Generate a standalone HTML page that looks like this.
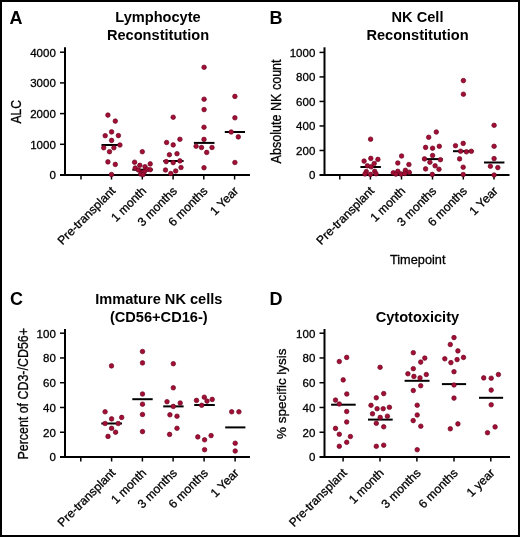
<!DOCTYPE html>
<html><head><meta charset="utf-8"><style>
html,body{margin:0;padding:0;background:#fff;}
svg{display:block;will-change:transform;}
text{font-family:"Liberation Sans",sans-serif;fill:#000;}
.let{font-size:18px;font-weight:bold;}
.ttl{font-size:14.6px;font-weight:bold;text-anchor:middle;}
.tl{font-size:11.5px;text-anchor:end;}
.tl,.xl,.yl,.xt{stroke:#000;stroke-width:0.3px;}
.xl{font-size:12.1px;text-anchor:end;}
.yl{font-size:12.5px;text-anchor:middle;}
.xt{font-size:13.6px;text-anchor:middle;}
.ax{stroke:#000;stroke-width:2;fill:none;}
.tk{stroke:#000;stroke-width:1.5;fill:none;}
.md{stroke:#000;stroke-width:2;fill:none;}
circle{fill:#a20e34;stroke:#6e0724;stroke-width:0.7;}
</style></head><body>
<svg width="520" height="537" viewBox="0 0 520 537">
<rect x="0" y="0" width="520" height="537" fill="#fff"/>
<rect x="1" y="1" width="518" height="535" fill="none" stroke="#000" stroke-width="2"/>
<text x="9.5" y="23.8" class="let">A</text>
<text x="158" y="22.3" class="ttl">Lymphocyte</text>
<text x="158" y="39.5" class="ttl">Reconstitution</text>
<path d="M65 47.3V176" class="ax"/>
<path d="M60 175H250" class="ax"/>
<text x="55.8" y="179.3" class="tl">0</text>
<path d="M60 144.3H65" class="tk"/>
<text x="55.8" y="148.6" class="tl">1000</text>
<path d="M60 113.6H65" class="tk"/>
<text x="55.8" y="117.9" class="tl">2000</text>
<path d="M60 82.9H65" class="tk"/>
<text x="55.8" y="87.2" class="tl">3000</text>
<path d="M60 52.2H65" class="tk"/>
<text x="55.8" y="56.5" class="tl">4000</text>
<path d="M81 176V179.5" class="tk"/>
<path d="M111.5 176V179.5" class="tk"/>
<path d="M142.3 176V179.5" class="tk"/>
<path d="M173.1 176V179.5" class="tk"/>
<path d="M203.8 176V179.5" class="tk"/>
<path d="M234.6 176V179.5" class="tk"/>
<text transform="translate(116.1 191.7) rotate(-45)" class="xl">Pre-transplant</text>
<text transform="translate(146.9 191.7) rotate(-45)" class="xl">1 month</text>
<text transform="translate(177.7 191.7) rotate(-45)" class="xl">3 months</text>
<text transform="translate(208.4 191.7) rotate(-45)" class="xl">6 months</text>
<text transform="translate(239.2 191.7) rotate(-45)" class="xl">1 Year</text>
<text transform="translate(21 111.7) rotate(-90)" class="yl" style="font-size:14.6px" textLength="23.5" lengthAdjust="spacingAndGlyphs">ALC</text>
<path d="M101.5 145H121.5" class="md"/>
<path d="M132.3 169.7H152.7" class="md"/>
<path d="M163.3 161H183.6" class="md"/>
<path d="M193.9 142.9H214.5" class="md"/>
<path d="M224.8 132H245" class="md"/>
<circle cx="107.9" cy="115.1" r="2.28"/>
<circle cx="115.3" cy="121.1" r="2.28"/>
<circle cx="111.6" cy="131.9" r="2.28"/>
<circle cx="105.2" cy="135.7" r="2.28"/>
<circle cx="118.4" cy="135.6" r="2.28"/>
<circle cx="111.6" cy="140.4" r="2.28"/>
<circle cx="119.9" cy="145" r="2.28"/>
<circle cx="103.7" cy="147.8" r="2.28"/>
<circle cx="113.9" cy="147.8" r="2.28"/>
<circle cx="109.5" cy="151.7" r="2.28"/>
<circle cx="107.9" cy="161.9" r="2.28"/>
<circle cx="115.3" cy="164.4" r="2.28"/>
<circle cx="111.5" cy="174.5" r="2.28"/>
<circle cx="142.3" cy="151.7" r="2.28"/>
<circle cx="134.6" cy="162.2" r="2.28"/>
<circle cx="150.2" cy="163.9" r="2.28"/>
<circle cx="139.8" cy="165.3" r="2.28"/>
<circle cx="145" cy="166.7" r="2.28"/>
<circle cx="135.2" cy="168" r="2.28"/>
<circle cx="138.4" cy="170" r="2.28"/>
<circle cx="147" cy="169.4" r="2.28"/>
<circle cx="150.2" cy="169.7" r="2.28"/>
<circle cx="141.8" cy="172.3" r="2.28"/>
<circle cx="144.4" cy="171.7" r="2.28"/>
<circle cx="140.7" cy="174" r="2.28"/>
<circle cx="143" cy="174.6" r="2.28"/>
<circle cx="173.2" cy="117.2" r="2.28"/>
<circle cx="179.9" cy="139.3" r="2.28"/>
<circle cx="166.6" cy="142.5" r="2.28"/>
<circle cx="173.2" cy="144.9" r="2.28"/>
<circle cx="169.4" cy="154.7" r="2.28"/>
<circle cx="177" cy="153.7" r="2.28"/>
<circle cx="166.2" cy="161.6" r="2.28"/>
<circle cx="173.2" cy="162.6" r="2.28"/>
<circle cx="179.9" cy="160.9" r="2.28"/>
<circle cx="181" cy="167.5" r="2.28"/>
<circle cx="165.5" cy="170" r="2.28"/>
<circle cx="175.7" cy="171" r="2.28"/>
<circle cx="170.8" cy="173.5" r="2.28"/>
<circle cx="204.1" cy="67.3" r="2.28"/>
<circle cx="204.1" cy="99.2" r="2.28"/>
<circle cx="204.1" cy="109.6" r="2.28"/>
<circle cx="204" cy="127.2" r="2.28"/>
<circle cx="204" cy="139.4" r="2.28"/>
<circle cx="196.1" cy="146.2" r="2.28"/>
<circle cx="201.5" cy="147.5" r="2.28"/>
<circle cx="212" cy="147.5" r="2.28"/>
<circle cx="206.7" cy="152.4" r="2.28"/>
<circle cx="204" cy="167.7" r="2.28"/>
<circle cx="234.9" cy="96.4" r="2.28"/>
<circle cx="234.9" cy="117.8" r="2.28"/>
<circle cx="231.2" cy="132" r="2.28"/>
<circle cx="238.3" cy="136.9" r="2.28"/>
<circle cx="234.9" cy="162.5" r="2.28"/>
<text x="269.6" y="23.8" class="let">B</text>
<text x="417.5" y="22.3" class="ttl">NK Cell</text>
<text x="417.5" y="39.5" class="ttl">Reconstitution</text>
<path d="M324.5 47.3V176" class="ax"/>
<path d="M319.5 175H509.5" class="ax"/>
<text x="315.3" y="179.3" class="tl">0</text>
<path d="M319.5 150.48H324.5" class="tk"/>
<text x="315.3" y="154.78" class="tl">200</text>
<path d="M319.5 125.96H324.5" class="tk"/>
<text x="315.3" y="130.26" class="tl">400</text>
<path d="M319.5 101.44H324.5" class="tk"/>
<text x="315.3" y="105.74" class="tl">600</text>
<path d="M319.5 76.92H324.5" class="tk"/>
<text x="315.3" y="81.22" class="tl">800</text>
<path d="M319.5 52.4H324.5" class="tk"/>
<text x="315.3" y="56.7" class="tl">1000</text>
<path d="M339.8 176V179.5" class="tk"/>
<path d="M370.4 176V179.5" class="tk"/>
<path d="M401.5 176V179.5" class="tk"/>
<path d="M432.5 176V179.5" class="tk"/>
<path d="M463.3 176V179.5" class="tk"/>
<path d="M494 176V179.5" class="tk"/>
<text transform="translate(375 191.7) rotate(-45)" class="xl">Pre-transplant</text>
<text transform="translate(406.1 191.7) rotate(-45)" class="xl">1 month</text>
<text transform="translate(437.1 191.7) rotate(-45)" class="xl">3 months</text>
<text transform="translate(467.9 191.7) rotate(-45)" class="xl">6 months</text>
<text transform="translate(498.6 191.7) rotate(-45)" class="xl">1 Year</text>
<text transform="translate(281 111.4) rotate(-90)" class="yl" style="font-size:13.8px" textLength="104" lengthAdjust="spacingAndGlyphs">Absolute NK count</text>
<text x="417.7" y="263.9" class="xt" textLength="55.5" lengthAdjust="spacingAndGlyphs">Timepoint</text>
<path d="M360.4 167H380.9" class="md"/>
<path d="M391.5 172.8H411.5" class="md"/>
<path d="M422.5 159.1H442.5" class="md"/>
<path d="M453 151.2H473.5" class="md"/>
<path d="M484 162.5H504.4" class="md"/>
<circle cx="370.6" cy="139.2" r="2.28"/>
<circle cx="364.1" cy="161.1" r="2.28"/>
<circle cx="370.8" cy="158.4" r="2.28"/>
<circle cx="377.9" cy="159.4" r="2.28"/>
<circle cx="374.2" cy="163.5" r="2.28"/>
<circle cx="367.4" cy="165.8" r="2.28"/>
<circle cx="371.2" cy="166.8" r="2.28"/>
<circle cx="366.3" cy="171.6" r="2.28"/>
<circle cx="374.7" cy="171.3" r="2.28"/>
<circle cx="370.4" cy="174.4" r="2.28"/>
<circle cx="365" cy="174" r="2.28"/>
<circle cx="376" cy="173.8" r="2.28"/>
<circle cx="401.6" cy="156" r="2.28"/>
<circle cx="397.8" cy="163" r="2.28"/>
<circle cx="408.9" cy="164.5" r="2.28"/>
<circle cx="393.3" cy="172.8" r="2.28"/>
<circle cx="397.8" cy="171.3" r="2.28"/>
<circle cx="405.4" cy="170.3" r="2.28"/>
<circle cx="409.2" cy="172.2" r="2.28"/>
<circle cx="401" cy="174.1" r="2.28"/>
<circle cx="395.9" cy="174.1" r="2.28"/>
<circle cx="404.8" cy="173.5" r="2.28"/>
<circle cx="436.3" cy="132" r="2.28"/>
<circle cx="428.7" cy="137.3" r="2.28"/>
<circle cx="425.6" cy="147.4" r="2.28"/>
<circle cx="432.6" cy="148.2" r="2.28"/>
<circle cx="439.3" cy="146.3" r="2.28"/>
<circle cx="432.6" cy="155.5" r="2.28"/>
<circle cx="424.5" cy="158.9" r="2.28"/>
<circle cx="440.4" cy="159.7" r="2.28"/>
<circle cx="429.9" cy="162.2" r="2.28"/>
<circle cx="435.1" cy="165.8" r="2.28"/>
<circle cx="425.6" cy="168.9" r="2.28"/>
<circle cx="439" cy="169.2" r="2.28"/>
<circle cx="432.3" cy="174.4" r="2.28"/>
<circle cx="463.4" cy="80.6" r="2.28"/>
<circle cx="463.4" cy="94.2" r="2.28"/>
<circle cx="455.5" cy="145.7" r="2.28"/>
<circle cx="463.2" cy="143.4" r="2.28"/>
<circle cx="460.6" cy="151.2" r="2.28"/>
<circle cx="466.4" cy="151.8" r="2.28"/>
<circle cx="471.3" cy="151.3" r="2.28"/>
<circle cx="459.6" cy="158.9" r="2.28"/>
<circle cx="463.2" cy="167.2" r="2.28"/>
<circle cx="463.2" cy="174.5" r="2.28"/>
<circle cx="494.1" cy="125.3" r="2.28"/>
<circle cx="494.1" cy="146.3" r="2.28"/>
<circle cx="494.1" cy="158.6" r="2.28"/>
<circle cx="490.4" cy="166.2" r="2.28"/>
<circle cx="497.8" cy="167.6" r="2.28"/>
<circle cx="494.1" cy="175" r="2.28"/>
<text x="10" y="305" class="let">C</text>
<text x="158.8" y="304.4" class="ttl">Immature NK cells</text>
<text x="158.8" y="321.6" class="ttl">(CD56+CD16-)</text>
<path d="M65 329V458" class="ax"/>
<path d="M60 457H250" class="ax"/>
<text x="55.8" y="461.3" class="tl">0</text>
<path d="M60 432.24H65" class="tk"/>
<text x="55.8" y="436.54" class="tl">20</text>
<path d="M60 407.48H65" class="tk"/>
<text x="55.8" y="411.78" class="tl">40</text>
<path d="M60 382.72H65" class="tk"/>
<text x="55.8" y="387.02" class="tl">60</text>
<path d="M60 357.96H65" class="tk"/>
<text x="55.8" y="362.26" class="tl">80</text>
<path d="M60 333.2H65" class="tk"/>
<text x="55.8" y="337.5" class="tl">100</text>
<path d="M80.8 458V461.5" class="tk"/>
<path d="M111.6 458V461.5" class="tk"/>
<path d="M142.4 458V461.5" class="tk"/>
<path d="M173.1 458V461.5" class="tk"/>
<path d="M204.1 458V461.5" class="tk"/>
<path d="M235.1 458V461.5" class="tk"/>
<text transform="translate(116.2 473.7) rotate(-45)" class="xl">Pre-transplant</text>
<text transform="translate(147 473.7) rotate(-45)" class="xl">1 month</text>
<text transform="translate(177.7 473.7) rotate(-45)" class="xl">3 months</text>
<text transform="translate(208.7 473.7) rotate(-45)" class="xl">6 months</text>
<text transform="translate(239.7 473.7) rotate(-45)" class="xl">1 Year</text>
<text transform="translate(28 393.8) rotate(-90)" class="yl" style="font-size:14.5px" textLength="131.5" lengthAdjust="spacingAndGlyphs">Percent of CD3-/CD56+</text>
<path d="M101.3 423.5H122" class="md"/>
<path d="M132.3 399.2H152.7" class="md"/>
<path d="M163.2 406.4H183.6" class="md"/>
<path d="M194.2 405H214.8" class="md"/>
<path d="M225.2 427.4H245.4" class="md"/>
<circle cx="111.5" cy="365.9" r="2.28"/>
<circle cx="105.1" cy="411.8" r="2.28"/>
<circle cx="121.7" cy="417.4" r="2.28"/>
<circle cx="111.6" cy="418.9" r="2.28"/>
<circle cx="105.1" cy="423.5" r="2.28"/>
<circle cx="118.2" cy="423.5" r="2.28"/>
<circle cx="111.6" cy="428.3" r="2.28"/>
<circle cx="115.6" cy="432.2" r="2.28"/>
<circle cx="108" cy="436.4" r="2.28"/>
<circle cx="142.5" cy="351.5" r="2.28"/>
<circle cx="142.5" cy="362.9" r="2.28"/>
<circle cx="142.5" cy="394" r="2.28"/>
<circle cx="142.5" cy="404.2" r="2.28"/>
<circle cx="142.5" cy="414.5" r="2.28"/>
<circle cx="142.5" cy="431.6" r="2.28"/>
<circle cx="173.3" cy="363.7" r="2.28"/>
<circle cx="173.3" cy="387.8" r="2.28"/>
<circle cx="167" cy="401.7" r="2.28"/>
<circle cx="180.2" cy="403" r="2.28"/>
<circle cx="173.3" cy="406.4" r="2.28"/>
<circle cx="169.9" cy="414.8" r="2.28"/>
<circle cx="177" cy="416.2" r="2.28"/>
<circle cx="177" cy="428.3" r="2.28"/>
<circle cx="169.6" cy="434.4" r="2.28"/>
<circle cx="196.5" cy="400.4" r="2.28"/>
<circle cx="204.3" cy="397.2" r="2.28"/>
<circle cx="207" cy="401.1" r="2.28"/>
<circle cx="212.2" cy="399.4" r="2.28"/>
<circle cx="201.7" cy="405.3" r="2.28"/>
<circle cx="197.8" cy="436.9" r="2.28"/>
<circle cx="204.6" cy="439.8" r="2.28"/>
<circle cx="211.1" cy="435.6" r="2.28"/>
<circle cx="204.6" cy="449.7" r="2.28"/>
<circle cx="231.7" cy="411.8" r="2.28"/>
<circle cx="238.9" cy="411.8" r="2.28"/>
<circle cx="235.2" cy="443.2" r="2.28"/>
<circle cx="235.2" cy="451" r="2.28"/>
<text x="269.6" y="305" class="let">D</text>
<text x="417.4" y="321.6" class="ttl">Cytotoxicity</text>
<path d="M324.5 329V458" class="ax"/>
<path d="M319.5 457H510" class="ax"/>
<text x="315.3" y="461.3" class="tl">0</text>
<path d="M319.5 432.24H324.5" class="tk"/>
<text x="315.3" y="436.54" class="tl">20</text>
<path d="M319.5 407.48H324.5" class="tk"/>
<text x="315.3" y="411.78" class="tl">40</text>
<path d="M319.5 382.72H324.5" class="tk"/>
<text x="315.3" y="387.02" class="tl">60</text>
<path d="M319.5 357.96H324.5" class="tk"/>
<text x="315.3" y="362.26" class="tl">80</text>
<path d="M319.5 333.2H324.5" class="tk"/>
<text x="315.3" y="337.5" class="tl">100</text>
<path d="M343.1 458V461.5" class="tk"/>
<path d="M380 458V461.5" class="tk"/>
<path d="M416.9 458V461.5" class="tk"/>
<path d="M454 458V461.5" class="tk"/>
<path d="M490.8 458V461.5" class="tk"/>
<text transform="translate(347.7 473.7) rotate(-45)" class="xl">Pre-transplant</text>
<text transform="translate(384.6 473.7) rotate(-45)" class="xl">1 month</text>
<text transform="translate(421.5 473.7) rotate(-45)" class="xl">3 months</text>
<text transform="translate(458.6 473.7) rotate(-45)" class="xl">6 months</text>
<text transform="translate(495.4 473.7) rotate(-45)" class="xl">1 year</text>
<text transform="translate(286.2 393.7) rotate(-90)" class="yl" style="font-size:13.6px" textLength="90.5" lengthAdjust="spacingAndGlyphs">% specific lysis</text>
<path d="M331.1 404.7H355.7" class="md"/>
<path d="M368 419.6H392.7" class="md"/>
<path d="M404.6 380.8H429.5" class="md"/>
<path d="M441.9 384.1H466.1" class="md"/>
<path d="M479 397.8H503.1" class="md"/>
<circle cx="339.3" cy="361.5" r="2.28"/>
<circle cx="346.7" cy="357.4" r="2.28"/>
<circle cx="343.2" cy="379.9" r="2.28"/>
<circle cx="346.8" cy="394" r="2.28"/>
<circle cx="335.5" cy="400.1" r="2.28"/>
<circle cx="339.3" cy="404" r="2.28"/>
<circle cx="346.7" cy="411.5" r="2.28"/>
<circle cx="346.7" cy="422" r="2.28"/>
<circle cx="335.5" cy="428.4" r="2.28"/>
<circle cx="339.3" cy="434.3" r="2.28"/>
<circle cx="350.4" cy="436.5" r="2.28"/>
<circle cx="346.7" cy="442.3" r="2.28"/>
<circle cx="339.3" cy="446.3" r="2.28"/>
<circle cx="380.1" cy="367.3" r="2.28"/>
<circle cx="383.7" cy="393.6" r="2.28"/>
<circle cx="376.3" cy="397.8" r="2.28"/>
<circle cx="371" cy="405.3" r="2.28"/>
<circle cx="377.1" cy="408.7" r="2.28"/>
<circle cx="383.2" cy="408.7" r="2.28"/>
<circle cx="389.4" cy="407.3" r="2.28"/>
<circle cx="372.5" cy="413.8" r="2.28"/>
<circle cx="380.2" cy="417.4" r="2.28"/>
<circle cx="387.4" cy="416.2" r="2.28"/>
<circle cx="376.3" cy="423.3" r="2.28"/>
<circle cx="383.7" cy="426.8" r="2.28"/>
<circle cx="376.3" cy="446.3" r="2.28"/>
<circle cx="383.7" cy="445.2" r="2.28"/>
<circle cx="413.3" cy="352.7" r="2.28"/>
<circle cx="424.8" cy="358.1" r="2.28"/>
<circle cx="420.7" cy="362.1" r="2.28"/>
<circle cx="413.3" cy="368.7" r="2.28"/>
<circle cx="407.9" cy="373.8" r="2.28"/>
<circle cx="413.9" cy="376.4" r="2.28"/>
<circle cx="420" cy="377.9" r="2.28"/>
<circle cx="426.3" cy="374.5" r="2.28"/>
<circle cx="420.7" cy="385.7" r="2.28"/>
<circle cx="413.3" cy="390.5" r="2.28"/>
<circle cx="417.2" cy="405.2" r="2.28"/>
<circle cx="417.2" cy="415" r="2.28"/>
<circle cx="413.2" cy="420.6" r="2.28"/>
<circle cx="420.8" cy="426.2" r="2.28"/>
<circle cx="417.2" cy="449.7" r="2.28"/>
<circle cx="454" cy="337.6" r="2.28"/>
<circle cx="450.3" cy="344.5" r="2.28"/>
<circle cx="457.9" cy="350.9" r="2.28"/>
<circle cx="444.8" cy="358.8" r="2.28"/>
<circle cx="450.9" cy="362.6" r="2.28"/>
<circle cx="457.1" cy="359.6" r="2.28"/>
<circle cx="463.5" cy="357.4" r="2.28"/>
<circle cx="454" cy="371.7" r="2.28"/>
<circle cx="454" cy="385" r="2.28"/>
<circle cx="454" cy="398.1" r="2.28"/>
<circle cx="457.9" cy="423.9" r="2.28"/>
<circle cx="450.3" cy="428.8" r="2.28"/>
<circle cx="483.7" cy="377.9" r="2.28"/>
<circle cx="491.2" cy="378.2" r="2.28"/>
<circle cx="498.4" cy="374.5" r="2.28"/>
<circle cx="491.2" cy="390.1" r="2.28"/>
<circle cx="491.2" cy="404.8" r="2.28"/>
<circle cx="495.1" cy="426.9" r="2.28"/>
<circle cx="487.5" cy="432.7" r="2.28"/>
</svg>
</body></html>
